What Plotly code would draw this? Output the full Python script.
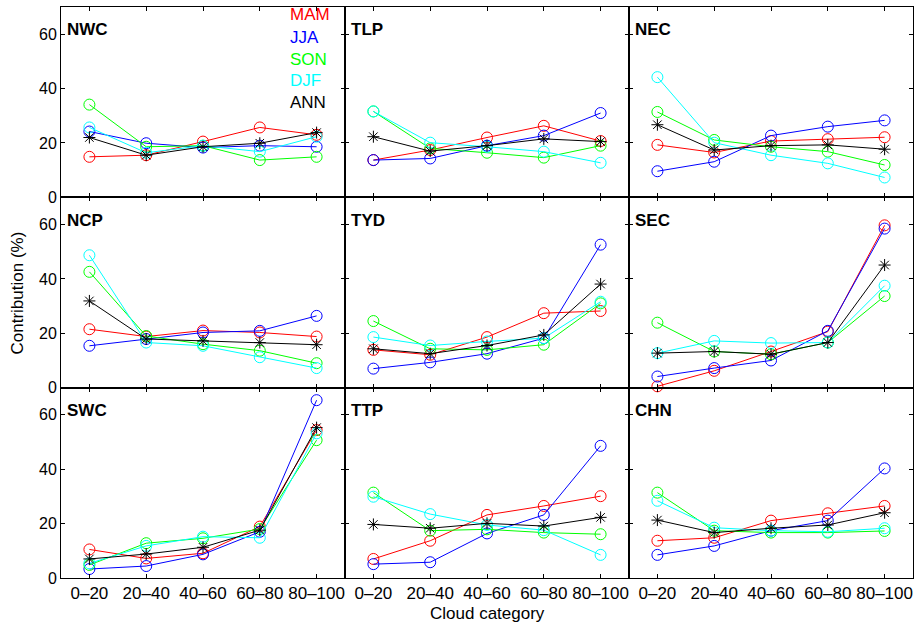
import plotly.graph_objects as go
from plotly.subplots import make_subplots

categories = ["0–20", "20–40", "40–60", "60–80", "80–100"]
regions = ["NWC", "TLP", "NEC", "NCP", "TYD", "SEC", "SWC", "TTP", "CHN"]
seasons = ["MAM", "JJA", "SON", "DJF", "ANN"]
colors = {"MAM": "#FF0000", "JJA": "#0000FF", "SON": "#00FF00", "DJF": "#00FFFF", "ANN": "#000000"}

NWC_MAM = [14.9, 15.5, 20.5, 25.7, 23.0]
NWC_JJA = [24.2, 19.9, 18.3, 19.0, 18.6]
NWC_SON = [34.1, 18.6, 19.0, 13.7, 14.9]
NWC_DJF = [25.7, 16.4, 19.0, 16.8, 22.3]
NWC_ANN = [22.0, 15.5, 18.6, 19.9, 23.8]

TLP_MAM = [13.7, 17.4, 22.0, 26.3, 20.7]
TLP_JJA = [13.7, 14.3, 19.0, 22.7, 31.0]
TLP_SON = [31.6, 18.0, 16.4, 14.6, 19.0]
TLP_DJF = [31.6, 20.1, 18.6, 16.8, 12.7]
TLP_ANN = [22.3, 17.0, 19.0, 21.5, 20.5]

NEC_MAM = [19.3, 16.5, 20.7, 21.4, 22.1]
NEC_JJA = [9.6, 13.1, 22.7, 26.0, 28.3]
NEC_SON = [31.4, 21.1, 18.6, 16.8, 11.9]
NEC_DJF = [44.2, 20.1, 15.5, 12.5, 7.3]
NEC_ANN = [26.7, 17.4, 19.0, 19.3, 17.7]

NCP_MAM = [21.5, 18.8, 21.0, 20.3, 18.8]
NCP_JJA = [15.4, 17.9, 20.3, 20.9, 26.4]
NCP_SON = [42.6, 19.0, 16.0, 13.6, 9.0]
NCP_DJF = [48.7, 16.6, 15.4, 11.2, 7.2]
NCP_ANN = [31.9, 17.9, 17.2, 16.6, 15.8]

TYD_MAM = [13.9, 12.1, 18.6, 27.4, 28.2]
TYD_JJA = [7.0, 9.3, 12.5, 18.2, 52.6]
TYD_SON = [24.5, 14.3, 13.9, 15.8, 31.0]
TYD_DJF = [18.6, 15.5, 17.0, 18.2, 31.6]
TYD_ANN = [14.3, 12.5, 15.5, 19.4, 38.1]

SEC_MAM = [0.5, 6.2, 13.3, 20.6, 59.7]
SEC_JJA = [4.1, 7.2, 10.0, 20.9, 58.5]
SEC_SON = [23.9, 13.3, 12.3, 16.6, 33.7]
SEC_DJF = [12.7, 17.2, 16.4, 16.6, 37.5]
SEC_ANN = [12.7, 13.3, 12.3, 16.6, 45.1]

SWC_MAM = [10.5, 7.2, 9.1, 18.9, 54.4]
SWC_JJA = [3.3, 4.4, 8.7, 17.0, 65.4]
SWC_SON = [4.8, 12.8, 14.6, 18.0, 50.7]
SWC_DJF = [5.4, 11.8, 15.2, 14.8, 53.2]
SWC_ANN = [7.0, 8.8, 11.3, 17.6, 55.3]

TTP_MAM = [7.0, 13.7, 23.2, 26.5, 30.1]
TTP_JJA = [5.1, 5.8, 16.4, 23.2, 48.6]
TTP_SON = [31.4, 17.4, 17.9, 16.7, 16.1]
TTP_DJF = [29.9, 23.5, 19.5, 17.6, 8.5]
TTP_ANN = [19.7, 18.3, 20.1, 19.1, 22.3]

CHN_MAM = [13.7, 14.8, 21.1, 23.8, 26.5]
CHN_JJA = [8.5, 11.8, 17.4, 21.1, 40.3]
CHN_SON = [31.4, 17.4, 16.7, 16.7, 17.3]
CHN_DJF = [28.4, 18.5, 17.4, 17.0, 18.3]
CHN_ANN = [21.3, 16.7, 18.3, 19.5, 24.0]

data = {
    "NWC": [NWC_MAM, NWC_JJA, NWC_SON, NWC_DJF, NWC_ANN],
    "TLP": [TLP_MAM, TLP_JJA, TLP_SON, TLP_DJF, TLP_ANN],
    "NEC": [NEC_MAM, NEC_JJA, NEC_SON, NEC_DJF, NEC_ANN],
    "NCP": [NCP_MAM, NCP_JJA, NCP_SON, NCP_DJF, NCP_ANN],
    "TYD": [TYD_MAM, TYD_JJA, TYD_SON, TYD_DJF, TYD_ANN],
    "SEC": [SEC_MAM, SEC_JJA, SEC_SON, SEC_DJF, SEC_ANN],
    "SWC": [SWC_MAM, SWC_JJA, SWC_SON, SWC_DJF, SWC_ANN],
    "TTP": [TTP_MAM, TTP_JJA, TTP_SON, TTP_DJF, TTP_ANN],
    "CHN": [CHN_MAM, CHN_JJA, CHN_SON, CHN_DJF, CHN_ANN],
}

FONT = "Liberation Sans, Arial, Helvetica, sans-serif"

fig = make_subplots(rows=3, cols=3, horizontal_spacing=0, vertical_spacing=0)

for i, reg in enumerate(regions):
    r, c = i // 3 + 1, i % 3 + 1
    for s, vals in zip(seasons, data[reg]):
        if s == "ANN":
            marker = dict(symbol="asterisk-open", size=10, color=colors[s],
                          line=dict(color=colors[s], width=1))
        else:
            marker = dict(symbol="circle-open", size=11, color=colors[s],
                          line=dict(color=colors[s], width=1))
        fig.add_trace(go.Scatter(x=categories, y=vals, mode="lines+markers",
                                 line=dict(color=colors[s], width=1),
                                 marker=marker, cliponaxis=False,
                                 showlegend=False, name=s),
                      row=r, col=c)
    fig.update_xaxes(range=[-0.5, 4.5], showline=True, mirror="ticks", linecolor="black",
                     linewidth=1, ticks="inside", ticklen=4, tickcolor="black",
                     showgrid=False, zeroline=False, showticklabels=(r == 3),
                     tickfont=dict(size=17, color="black", family=FONT), row=r, col=c)
    fig.update_yaxes(range=[0, 70], tickvals=[0, 20, 40, 60], showline=True, mirror="ticks",
                     linecolor="black", linewidth=1, ticks="inside", ticklen=4,
                     tickcolor="black", showgrid=False, zeroline=False,
                     showticklabels=(c == 1),
                     tickfont=dict(size=16, color="black", family=FONT), row=r, col=c)
    axn = "" if i == 0 else str(i + 1)
    fig.add_annotation(text="<b>%s</b>" % reg, xref="x%s domain" % axn, yref="y%s domain" % axn,
                       x=0.015, y=0.88, xanchor="left", yanchor="middle", showarrow=False,
                       font=dict(size=17, color="black", family=FONT))

legend_y = [0.958, 0.842, 0.726, 0.613, 0.5]
for s, ly in zip(seasons, legend_y):
    fig.add_annotation(text=s, xref="x domain", yref="y domain", x=0.80, y=ly,
                       xanchor="left", yanchor="middle", showarrow=False,
                       font=dict(size=17, color=colors[s], family=FONT))

fig.add_annotation(text="Contribution (%)", xref="paper", yref="paper", x=-0.0505, y=0.5,
                   textangle=-90, xanchor="center", yanchor="middle", showarrow=False,
                   font=dict(size=17, color="black", family=FONT))
fig.add_annotation(text="Cloud category", xref="paper", yref="paper", x=0.5, y=-0.063,
                   xanchor="center", yanchor="middle", showarrow=False,
                   font=dict(size=17, color="black", family=FONT))

fig.update_layout(width=919, height=627, margin=dict(l=61, r=6, t=7, b=49),
                  plot_bgcolor="white", paper_bgcolor="white",
                  font=dict(family=FONT, color="black"))

fig.write_html("out.html")
